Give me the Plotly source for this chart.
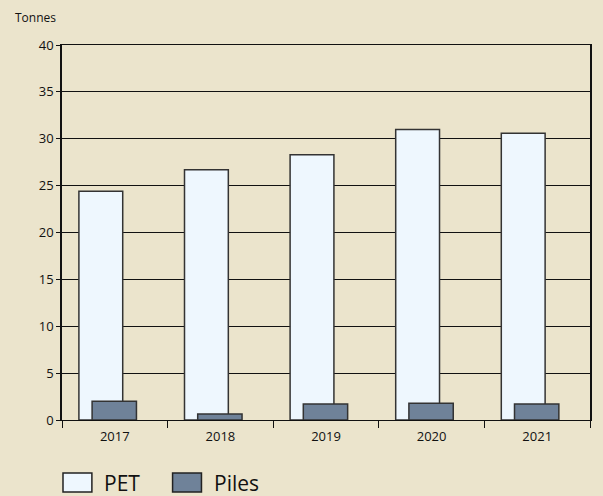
import plotly.graph_objects as go

years = ["2017", "2018", "2019", "2020", "2021"]
pet = [24.4, 26.7, 28.3, 31.0, 30.6]
piles = [2.0, 0.65, 1.7, 1.8, 1.7]
series_names = ["PET", "Piles"]
y_ticks = [0, 5, 10, 15, 20, 25, 30, 35, 40]

BG = "#ebe4cc"
PET_C = "#eef7fe"
PILES_C = "#6f8299"
EDGE = "#333333"
FONT = "Open Sans"

W, H = 603, 496
L, R, T, B = 62, 11, 45, 76
pw, ph = W - L - R, H - T - B

def px(x):
    return (x - L) / pw

def py(y):
    return (H - B - y) / ph

fig = go.Figure()
fig.add_bar(x=years, y=pet, name=series_names[0], width=0.415, offset=-0.34,
            marker=dict(color=PET_C, line=dict(color=EDGE, width=1.5)))
fig.add_bar(x=years, y=piles, name=series_names[1], width=0.42, offset=-0.215,
            marker=dict(color=PILES_C, line=dict(color=EDGE, width=1.5)))

shapes = []
annotations = []
legend_items = [(series_names[0], PET_C, 63, 102), (series_names[1], PILES_C, 173, 213)]
for name, col, bx, tx in legend_items:
    shapes.append(dict(type="rect", xref="paper", yref="paper",
                       x0=px(bx), x1=px(bx + 29), y0=py(492), y1=py(473),
                       fillcolor=col, line=dict(color="#222222", width=1.5)))
    annotations.append(dict(text=name, xref="paper", yref="paper", x=px(tx), y=py(483),
                            xanchor="left", yanchor="middle", showarrow=False,
                            font=dict(family=FONT, size=21, color="#111111")))
annotations.append(dict(text="Tonnes", xref="paper", yref="paper", x=px(13), y=py(18),
                        xanchor="left", yanchor="middle", showarrow=False,
                        font=dict(family=FONT, size=12, color="#111111")))

fig.update_layout(
    width=W, height=H, margin=dict(l=L, r=R, t=T, b=B),
    paper_bgcolor=BG, plot_bgcolor=BG, barmode="overlay", showlegend=False,
    font=dict(family=FONT, size=13, color="#111111"),
    shapes=shapes, annotations=annotations,
    xaxis=dict(type="category", showline=True, linecolor="#111111", linewidth=1.3,
               mirror=True, ticks="outside", tickson="boundaries", ticklen=7,
               tickcolor="#111111", tickwidth=1.3, showgrid=False,
               ticklabelstandoff=4, tickfont=dict(size=13)),
    yaxis=dict(range=[0, 40], tickvals=y_ticks, showline=True, linecolor="#111111",
               linewidth=1.5, mirror=True, ticks="outside", ticklen=4,
               tickcolor="#111111", tickwidth=1.3, showgrid=True,
               gridcolor="#111111", gridwidth=1.3, zeroline=False,
               tickfont=dict(size=13)),
)

fig.write_html("out.html", config={"displayModeBar": False},
               post_script="document.body.style.margin='0';document.body.style.background='" + BG + "';")
